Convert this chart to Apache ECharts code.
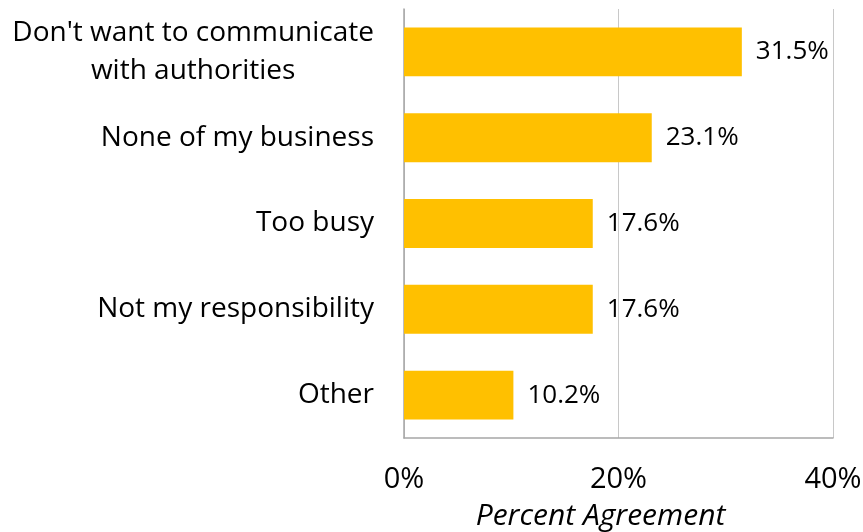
<!DOCTYPE html>
<html>
<head>
<meta charset="utf-8">
<script src="https://cdn.jsdelivr.net/npm/echarts@6/dist/echarts.min.js"></script>
<style>
  html, body { margin: 0; padding: 0; background: #fff; }
  #chart { width: 863px; height: 532px; }
</style>
</head>
<body>
<div id="chart"></div>
<script>
// Reasons given, top to bottom
const categories = [
  "Don't want to communicate\nwith authorities",
  "None of my business",
  "Too busy",
  "Not my responsibility",
  "Other"
];
// Percent agreement for each reason
const values = [31.5, 23.1, 17.6, 17.6, 10.2];
// Horizontal axis ticks
const axisMax = 40;
const axisStep = 20;
const axisTitle = "Percent Agreement";

const FONT = "'Open Sans', sans-serif";
const chart = echarts.init(document.getElementById('chart'), null, { renderer: 'canvas' });

chart.setOption({
  animation: false,
  backgroundColor: '#ffffff',
  grid: {
    left: 404, right: 30, top: 9, bottom: 94,
    containLabel: false,
    outerBoundsMode: 'none'
  },
  xAxis: {
    type: 'value',
    min: 0,
    max: axisMax,
    interval: axisStep,
    name: axisTitle,
    nameLocation: 'middle',
    nameGap: 63,
    nameTextStyle: {
      fontFamily: FONT, fontSize: 30, fontStyle: 'italic', color: '#000',
      padding: [0, 36, 0, 0]
    },
    axisLine: { show: true, lineStyle: { color: '#a6a6a6', width: 1.5 } },
    axisTick: { show: false },
    axisLabel: {
      formatter: v => v + '%',
      fontFamily: FONT, fontSize: 29, color: '#000', margin: 27
    },
    splitLine: { show: true, lineStyle: { color: '#c8c8c8', width: 1 } }
  },
  yAxis: {
    type: 'category',
    data: categories,
    inverse: true,
    axisLine: { show: true, lineStyle: { color: '#a6a6a6', width: 1.5 } },
    axisTick: { show: false },
    axisLabel: {
      margin: 30,
      fontFamily: FONT, fontSize: 28, color: '#000', lineHeight: 38,
      formatter: v => v.split('\n').map(s => '{c|' + s + '}').join('\n'),
      rich: { c: { align: 'center', fontFamily: FONT, fontSize: 28, color: '#000', lineHeight: 38 } }
    }
  },
  series: [{
    type: 'bar',
    data: values,
    barCategoryGap: '43%',
    itemStyle: { color: '#ffc000' },
    label: {
      show: true,
      position: 'right',
      distance: 14,
      formatter: p => p.value.toFixed(1) + '%',
      fontFamily: FONT, fontSize: 26, color: '#000'
    }
  }]
});
</script>
</body>
</html>
